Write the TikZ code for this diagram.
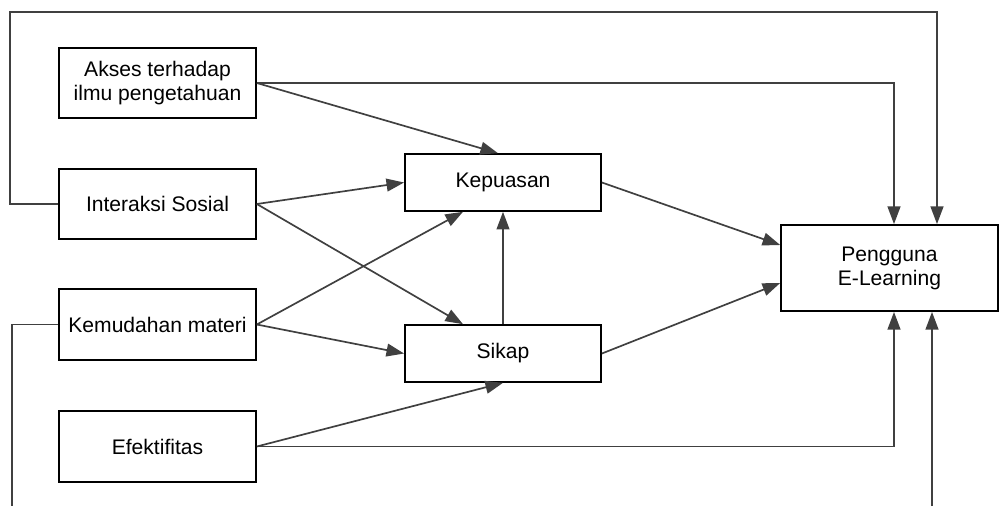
\documentclass[tikz,border=0pt]{standalone}
\usepackage{fontspec}
\setmainfont{Liberation Sans}
\usetikzlibrary{arrows.meta, calc}

\tikzset{
  box/.style={draw, line width=1.3pt, fill=white, align=center, inner sep=2pt,
    font=\fontsize{15}{17}\selectfont},
  leftbox/.style={box, minimum width=49.2mm, minimum height=17.7mm},
  midbox/.style={box, minimum width=49mm, minimum height=14.2mm},
  conn/.style={draw=black!75, line width=1.2pt},
  arr/.style={conn, -{Triangle[length=4.4mm, width=3.2mm]}}
}

\begin{document}
\begin{tikzpicture}[x=0.25mm, y=-0.25mm]
      \useasboundingbox (0,0) rectangle (999,506);
      % input factors
      \node[leftbox] (akses) at (157.5,83) {Akses terhadap\\ilmu pengetahuan};
      \node[leftbox] (interaksi) at (157.5,204) {Interaksi Sosial};
      \node[leftbox] (kemudahan) at (157.5,324.5) {Kemudahan materi};
      \node[leftbox] (efektif) at (157.5,446.5) {Efektifitas};
      % mediators
      \node[midbox] (kepuasan) at (503,182.5) {Kepuasan};
      \node[midbox] (sikap) at (503,353.5) {Sikap};
      % outcome
      \node[box, minimum width=54.2mm, minimum height=21.5mm] (pengguna) at (889.5,268) {Pengguna\\E-Learning};
      \coordinate (topleft) at (10,12);
      \coordinate (botleft) at (12,506);
      \coordinate (botright) at (932,506);

      % long loops
      \draw[arr] (interaksi.west) -| (topleft) -| ($(pengguna.north)+(47.5,0)$);
      \draw[arr] (akses.east) -| ($(pengguna.north)+(4.5,0)$);
      \draw[arr] (efektif.east) -| ($(pengguna.south)+(4.5,0)$);
      \draw[conn] (kemudahan.west) -| (botleft);
      \draw[arr] (botright) -- (botright |- pengguna.south);

      % diagonals
      \draw[arr] (akses.east) -- ($(kepuasan.north)+(-5,0)$);
      \draw[arr] (interaksi.east) -- (kepuasan.west);
      \draw[arr] (interaksi.east) -- ($(sikap.north)+(-40,0)$);
      \draw[arr] (kemudahan.east) -- ($(kepuasan.south)+(-40,0)$);
      \draw[arr] (kemudahan.east) -- (sikap.west);
      \draw[arr] (efektif.east) -- (sikap.south);
      \draw[arr] (sikap.north) -- (kepuasan.south);
      \draw[arr] (kepuasan.east) -- ($(pengguna.west)+(0,-23)$);
      \draw[arr] (sikap.east) -- ($(pengguna.west)+(0,15)$);
\end{tikzpicture}
\end{document}
